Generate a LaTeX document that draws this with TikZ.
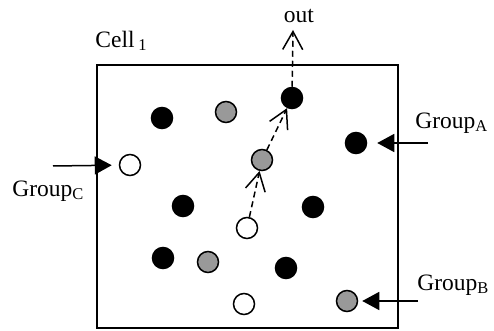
\documentclass[tikz,border=0pt]{standalone}
\usepackage{fontspec}
\setmainfont{Liberation Serif}
\usetikzlibrary{arrows.meta}

\begin{document}
\begin{tikzpicture}[x=0.5pt,y=-0.5pt,
  font=\fontsize{11.75pt}{14pt}\selectfont,
  dot/.style={circle,draw,line width=0.75pt,minimum size=10.5pt,inner sep=0pt},
  blackdot/.style={dot,fill=black},
  graydot/.style={dot,fill=black!40},
  whitedot/.style={dot,fill=white},
  move/.style={dash pattern=on 3pt off 2pt,line width=0.75pt,-{Straight Barb[length=9pt,width=10pt]}},
  enter/.style={line width=0.75pt,-{Triangle[length=8.5pt,width=9pt]}},
  txt/.style={inner sep=0pt}]
\useasboundingbox (0,0) rectangle (494,331);
\node[draw,line width=1pt,minimum width=150.5pt,minimum height=131.5pt,inner sep=0pt] (cell) at (247.5,196.5) {};
\node[txt,anchor=west] (lcell) at (95,41) {Cell\,\textsubscript{1}};
\node[txt] (lout) at (299,16) {out};
\coordinate (top) at (293,30);
\node[blackdot] (b1) at (162,118) {};
\node[graydot] (g1) at (226,112) {};
\node[blackdot] (b2) at (292,98) {};
\node[blackdot] (b3) at (356,143) {};
\node[graydot] (g2) at (262,160) {};
\node[whitedot] (w1) at (130,165) {};
\node[blackdot] (b4) at (183,206) {};
\node[blackdot] (b5) at (313,207) {};
\node[whitedot] (w2) at (247,228) {};
\node[blackdot] (b6) at (163,258) {};
\node[graydot] (g3) at (208,262) {};
\node[blackdot] (b7) at (286,268) {};
\node[whitedot] (w3) at (244,304) {};
\node[graydot] (g4) at (347,301) {};
\draw[move] (w2) -- (g2);
\draw[move] (g2) -- (b2);
\draw[move] (b2) -- (top);
\node[txt,anchor=west] (lc) at (12,191) {Group\textsubscript{C}};
\node[txt,anchor=west] (la) at (415,123) {Group\textsubscript{A}};
\node[txt,anchor=west] (lb) at (417,285) {Group\textsubscript{B}};
\coordinate (sc) at (53,166);
\coordinate (sa) at (428,143);
\coordinate (sb) at (418,301);
\draw[enter,shorten >=3.5pt] (sc) -- (w1);
\draw[enter,shorten >=5pt] (sa) -- (b3);
\draw[enter,shorten >=2pt] (sb) -- (g4);
\end{tikzpicture}
\end{document}
